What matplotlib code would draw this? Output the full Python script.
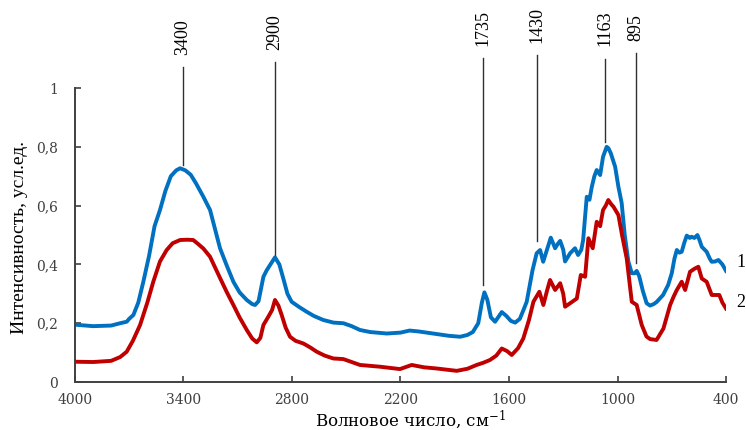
import matplotlib

matplotlib.use("Agg")
from matplotlib import pyplot as plt

# spectrum 1 (blue): wavenumber, intensity
WAVENUMBER_1 = [
    4000, 3900, 3800, 3750, 3714, 3700, 3677, 3650, 3622, 3590, 3560, 3530,
    3500, 3470, 3440, 3419, 3390, 3360, 3330, 3290, 3253, 3198, 3160, 3124,
    3090, 3050, 3020, 3004, 2985, 2958, 2940, 2921, 2894, 2870, 2848, 2825,
    2802, 2760, 2719, 2680, 2627, 2570, 2516, 2470, 2424, 2368, 2313, 2276,
    2200, 2150, 2100, 2000, 1930, 1870, 1830, 1800, 1770, 1750, 1736, 1720,
    1700, 1677, 1660, 1640, 1615, 1590, 1566, 1540, 1520, 1502, 1470, 1447,
    1428, 1411, 1395, 1380, 1369, 1345, 1330, 1317, 1300, 1290, 1262, 1235,
    1218, 1200, 1190, 1170, 1155, 1142, 1128, 1115, 1096, 1080, 1060, 1050,
    1037, 1013, 995, 977, 960, 940, 921, 905, 894, 880, 860, 839, 820, 800,
    784, 748, 720, 700, 685, 672, 658, 645, 630, 617, 600, 590, 575, 558,
    545, 534, 507, 490, 479, 460, 442, 420, 400,
]
INTENSITY_1 = [
    0.195, 0.190, 0.192, 0.200, 0.205, 0.215, 0.228, 0.270, 0.341, 0.430,
    0.530, 0.585, 0.650, 0.700, 0.720, 0.727, 0.720, 0.705, 0.675, 0.630,
    0.585, 0.455, 0.395, 0.341, 0.305, 0.279, 0.265, 0.262, 0.275, 0.358,
    0.380, 0.398, 0.424, 0.400, 0.352, 0.300, 0.273, 0.255, 0.239, 0.225,
    0.211, 0.202, 0.200, 0.190, 0.177, 0.170, 0.167, 0.165, 0.168, 0.175,
    0.172, 0.163, 0.157, 0.154, 0.160, 0.170, 0.200, 0.270, 0.305, 0.280,
    0.220, 0.205, 0.220, 0.238, 0.225, 0.208, 0.202, 0.215, 0.245, 0.273,
    0.380, 0.438, 0.449, 0.409, 0.440, 0.470, 0.491, 0.455, 0.470, 0.480,
    0.450, 0.410, 0.438, 0.455, 0.432, 0.450, 0.483, 0.630, 0.620, 0.664,
    0.700, 0.721, 0.704, 0.766, 0.800, 0.795, 0.778, 0.732, 0.664, 0.609,
    0.500, 0.410, 0.370, 0.370, 0.378, 0.360, 0.310, 0.268, 0.260, 0.265,
    0.272, 0.296, 0.330, 0.370, 0.420, 0.449, 0.440, 0.443, 0.475, 0.498,
    0.490, 0.494, 0.490, 0.500, 0.480, 0.460, 0.443, 0.420, 0.409, 0.410,
    0.415, 0.400, 0.378,
]

# spectrum 2 (red)
WAVENUMBER_2 = [
    4000, 3900, 3800, 3750, 3714, 3680, 3640, 3600, 3567, 3530, 3493, 3460,
    3419, 3380, 3346, 3320, 3290, 3253, 3198, 3160, 3124, 3090, 3050, 3020,
    2995, 2975, 2958, 2931, 2910, 2894, 2875, 2857, 2835, 2811, 2780, 2737,
    2700, 2663, 2620, 2571, 2516, 2470, 2424, 2368, 2313, 2203, 2138, 2070,
    2000, 1889, 1830, 1779, 1740, 1705, 1670, 1640, 1610, 1585, 1550, 1521,
    1490, 1465, 1432, 1410, 1390, 1373, 1345, 1317, 1300, 1290, 1262, 1225,
    1203, 1179, 1161, 1137, 1115, 1096, 1080, 1065, 1051, 1035, 1022, 995,
    975, 949, 921, 894, 866, 840, 820, 784, 746, 709, 690, 672, 645, 626,
    599, 575, 553, 534, 507, 479, 437, 420, 400,
]
INTENSITY_2 = [
    0.069, 0.068, 0.072, 0.085, 0.103, 0.140, 0.194, 0.270, 0.341, 0.410,
    0.449, 0.472, 0.483, 0.484, 0.483, 0.470, 0.454, 0.426, 0.354, 0.305,
    0.262, 0.220, 0.177, 0.148, 0.135, 0.150, 0.194, 0.222, 0.245, 0.279,
    0.260, 0.228, 0.185, 0.154, 0.140, 0.131, 0.118, 0.103, 0.090, 0.080,
    0.078, 0.068, 0.058, 0.055, 0.052, 0.044, 0.058, 0.050, 0.046, 0.038,
    0.045, 0.058, 0.066, 0.075, 0.090, 0.114, 0.105, 0.092, 0.115, 0.148,
    0.210, 0.273, 0.307, 0.262, 0.310, 0.347, 0.313, 0.336, 0.300, 0.256,
    0.268, 0.284, 0.364, 0.358, 0.489, 0.455, 0.545, 0.530, 0.585, 0.600,
    0.619, 0.605, 0.596, 0.568, 0.500, 0.420, 0.273, 0.262, 0.194, 0.155,
    0.146, 0.143, 0.182, 0.262, 0.290, 0.313, 0.341, 0.313, 0.375, 0.385,
    0.392, 0.352, 0.341, 0.296, 0.296, 0.270, 0.250,
]

# band labels above the plot and where their leader lines sit
PEAK_LABELS = ["3400", "2900", "1735", "1430", "1163", "895"]
PEAK_LINE_X = [3403, 2894, 1743, 1445, 1069, 897]
PEAK_LINE_BOTTOM = [0.738, 0.432, 0.330, 0.480, 0.816, 0.405]
PEAK_LINE_TOP = [1.071, 1.088, 1.102, 1.112, 1.099, 1.119]

X_TICKS = [4000, 3400, 2800, 2200, 1600, 1000, 400]
Y_TICKS = [0, 0.2, 0.4, 0.6, 0.8, 1]
Y_TICK_LABELS = ["0", "0,2", "0,4", "0,6", "0,8", "1"]

BLUE = "#0070c0"
RED = "#c00000"
TEXT = "#404040"
WIDE_SERIF = ["DejaVu Serif"]

plt.rcParams["font.family"] = ["Liberation Serif", "DejaVu Serif"]
plt.rcParams["mathtext.default"] = "regular"

figure = plt.figure(figsize=(7.46, 4.30), dpi=100)
axis = figure.add_axes([0.1005, 0.1116, 0.8727, 0.6837])

axis.plot(WAVENUMBER_1, INTENSITY_1, color=BLUE, linewidth=2.8,
          solid_joinstyle="round")
axis.plot(WAVENUMBER_2, INTENSITY_2, color=RED, linewidth=2.8,
          solid_joinstyle="round")

axis.annotate("1", xy=(WAVENUMBER_1[-1], INTENSITY_1[-1]), xytext=(7.5, 6),
              textcoords="offset points", fontsize=13, color="black",
              va="center", ha="left", annotation_clip=False)
axis.annotate("2", xy=(WAVENUMBER_2[-1], INTENSITY_2[-1]), xytext=(7.5, 4),
              textcoords="offset points", fontsize=13, color="black",
              va="center", ha="left", annotation_clip=False)

for label, x, bottom, top in zip(
    PEAK_LABELS, PEAK_LINE_X, PEAK_LINE_BOTTOM, PEAK_LINE_TOP
):
    axis.plot([x, x], [bottom, top], color="#303030", linewidth=1.0,
              clip_on=False)
    axis.annotate(label, xy=(x, top), xytext=(0, 9),
                  textcoords="offset points", rotation=90, fontsize=13,
                  ha="center", va="bottom", annotation_clip=False)

axis.set_xlim(4000, 400)
axis.set_ylim(0, 1)
axis.set_xticks(X_TICKS)
axis.set_yticks(Y_TICKS)
axis.set_yticklabels(Y_TICK_LABELS)
axis.tick_params(direction="in", length=4, width=1.2, colors="#404040",
                 labelcolor=TEXT, labelsize=10)
axis.tick_params(axis="x", pad=8)
axis.tick_params(axis="y", pad=12)
for tick_label in axis.get_xticklabels() + axis.get_yticklabels():
    tick_label.set_family(WIDE_SERIF)
for side in ("top", "right"):
    axis.spines[side].set_visible(False)
for side in ("left", "bottom"):
    axis.spines[side].set_color("#404040")
    axis.spines[side].set_linewidth(1.4)

axis.set_xlabel("Волновое число, см$^{-1}$", fontsize=12, color="black",
                family=WIDE_SERIF)
axis.xaxis.set_label_coords(0.515, -0.129)
axis.xaxis.label.set_verticalalignment("center")
axis.set_ylabel("Интенсивность, усл.ед.", fontsize=14, color="black")
axis.yaxis.set_label_coords(-0.0845, 0.49)
axis.yaxis.label.set_verticalalignment("center")

figure.savefig("out.png", dpi=100, facecolor="white")
